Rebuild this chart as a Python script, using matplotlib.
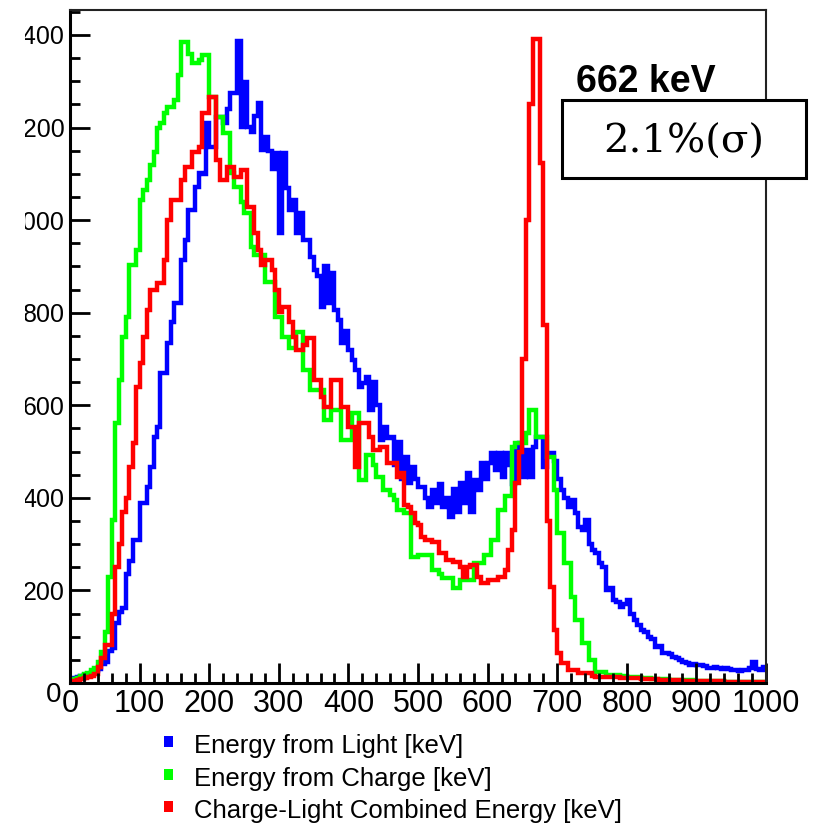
import numpy as np
import matplotlib
matplotlib.use('Agg')
import matplotlib.pyplot as plt
from matplotlib.patches import Rectangle
from matplotlib.ticker import MultipleLocator, FuncFormatter

plt.rcParams['font.family'] = ['Liberation Sans', 'DejaVu Sans']

# 5 keV bins from 0 to 1000 keV
edges = np.arange(0, 1001, 5)

# Energy from Light
light = [
    8, 10, 12, 15, 18, 20, 22, 25, 30, 40, 45, 70, 75, 130, 153, 162, 236, 264, 309, 309,
    388, 388, 424, 466, 531, 553, 670, 670, 734, 780, 820, 820, 913, 957, 1021, 1021, 1071, 1101, 1100, 1209,
    1158, 1158, 1222, 1222, 1210, 1240, 1274, 1274, 1388, 1201, 1298, 1201, 1190, 1226, 1252, 1151, 1180, 1150, 1110, 1145,
    972, 1145, 1069, 1022, 1043, 972, 1015, 957, 957, 920, 892, 880, 812, 900, 820, 885, 805, 784, 734, 760,
    720, 697, 676, 640, 648, 661, 590, 650, 600, 525, 553, 530, 531, 470, 520, 440, 488, 432, 466, 440,
    423, 423, 400, 380, 417, 389, 430, 380, 400, 358, 420, 370, 432, 389, 453, 369, 438, 417, 475, 440,
    475, 497, 460, 497, 445, 497, 470, 430, 503, 518, 445, 503, 445, 510, 531, 531, 466, 497, 497, 480,
    440, 417, 400, 380, 395, 367, 337, 330, 352, 300, 287, 280, 260, 250, 200, 205, 179, 175, 164, 170,
    179, 150, 136, 125, 114, 110, 99, 95, 78, 80, 65, 65, 62, 56, 55, 50, 45, 43, 39, 40,
    38, 39, 37, 33, 32, 34, 32, 30, 32, 31, 29, 28, 27, 29, 28, 33, 45, 30, 28, 35,
]

# Energy from Charge
charge = [
    5, 8, 10, 15, 20, 22, 28, 32, 45, 67, 110, 229, 352, 561, 654, 747, 790, 903, 903, 935,
    1043, 1065, 1086, 1120, 1147, 1199, 1210, 1231, 1244, 1244, 1259, 1313, 1384, 1384, 1360, 1339, 1339, 1345, 1356, 1356,
    1266, 1266, 1222, 1222, 1188, 1188, 1101, 1071, 1071, 1040, 1015, 1015, 942, 925, 925, 925, 866, 866, 866, 790,
    790, 747, 747, 723, 723, 758, 758, 676, 676, 633, 633, 633, 633, 568, 568, 590, 590, 590, 525, 525,
    525, 583, 583, 438, 438, 492, 492, 470, 445, 445, 417, 417, 406, 395, 374, 374, 367, 367, 272, 272,
    276, 276, 276, 276, 244, 244, 235, 227, 227, 227, 205, 205, 222, 222, 222, 222, 259, 259, 259, 276,
    276, 309, 309, 374, 374, 404, 404, 510, 518, 518, 518, 540, 590, 590, 531, 531, 531, 488, 488, 417,
    324, 324, 259, 259, 186, 136, 136, 86, 86, 50, 50, 24, 24, 24, 17, 17, 17, 17, 15, 15,
    14, 13, 12, 12, 11, 10, 10, 9, 9, 8, 8, 8, 7, 7, 7, 6, 6, 6, 6, 5,
    5, 5, 5, 4, 4, 4, 4, 4, 3, 3, 3, 3, 3, 3, 3, 3, 2, 2, 2, 2,
]

# Charge-Light Combined Energy
combined = [
    5, 5, 6, 8, 10, 12, 15, 20, 35, 54, 82, 82, 150, 250, 300, 370, 400, 466, 518, 639,
    691, 747, 806, 849, 849, 864, 864, 913, 1000, 1043, 1043, 1043, 1086, 1115, 1115, 1147, 1147, 1158, 1231, 1231,
    1266, 1266, 1130, 1086, 1086, 1115, 1115, 1093, 1093, 1108, 1108, 1028, 1028, 972, 935, 903, 913, 913, 892, 849,
    801, 812, 812, 780, 747, 720, 720, 730, 745, 745, 654, 654, 618, 596, 596, 654, 654, 654, 596, 596,
    553, 553, 466, 562, 562, 562, 531, 503, 503, 510, 510, 475, 475, 475, 445, 453, 384, 380, 367, 345,
    341, 315, 309, 309, 305, 305, 281, 281, 266, 266, 262, 262, 251, 229, 251, 255, 255, 229, 216, 216,
    222, 222, 222, 229, 229, 244, 287, 330, 432, 500, 700, 1000, 1250, 1391, 1391, 1123, 773, 350, 207, 114,
    65, 43, 43, 28, 28, 28, 22, 22, 22, 22, 16, 13, 13, 13, 13, 13, 12, 12, 11, 11,
    11, 10, 10, 10, 9, 9, 8, 8, 8, 7, 7, 7, 6, 6, 6, 6, 5, 5, 5, 5,
    5, 5, 4, 4, 4, 4, 4, 4, 3, 3, 3, 3, 3, 3, 3, 3, 3, 3, 3, 3,
]

labels = ['Energy from Light [keV]', 'Energy from Charge [keV]',
          'Charge-Light Combined Energy [keV]']
colors = ['#0000ff', '#00ff00', '#ff0000']

W, H = 819, 830
fig = plt.figure(figsize=(W / 100, H / 100), dpi=100)
ax = fig.add_axes([70 / W, 1 - 683 / H, 696 / W, 673 / H])

for vals, c in zip([light, charge, combined], colors):
    ax.stairs(vals, edges, color=c, lw=3.2, baseline=None)

ax.set_xlim(0, 1000)
ax.set_ylim(0, 1454)
ax.xaxis.set_major_locator(MultipleLocator(100))
ax.xaxis.set_minor_locator(MultipleLocator(20))
ax.yaxis.set_major_locator(MultipleLocator(200))
ax.yaxis.set_minor_locator(MultipleLocator(50))
# the zero of the y axis sits a little lower, drawn separately below
ax.yaxis.set_major_formatter(FuncFormatter(lambda v, p: '' if v == 0 else f'{v:.0f}'))
ax.tick_params(which='both', direction='in', width=2)
ax.tick_params(which='major', length=14.4)
ax.tick_params(which='minor', length=7)
ax.tick_params(axis='x', labelsize=22, pad=4)
ax.tick_params(axis='y', labelsize=18, pad=4)
ax.annotate('0', xy=(0, 0), xytext=(-11.5, -8.6), textcoords='offset points',
            fontsize=20, ha='center', va='center', annotation_clip=False)
for s in ['left', 'bottom']:
    ax.spines[s].set_linewidth(2.2)
for s in ['top', 'right']:
    ax.spines[s].set_linewidth(1.5)
    ax.spines[s].set_color('#222222')

# the source picture is cut off on its left side
fig.add_artist(Rectangle((0, 0.15), 25 / W, 0.85, transform=fig.transFigure,
                         fc='white', ec='none', zorder=10))

fig.text(576 / W, 1 - 92 / H, '662 keV', fontsize=27, fontweight='bold',
         ha='left', va='baseline')
fig.add_artist(Rectangle((562 / W, 1 - 178 / H), 244 / W, 78 / H,
                         transform=fig.transFigure, fc='white', ec='black',
                         lw=2.2, zorder=5))
fig.text(684 / W, 1 - 142 / H, '2.1%(σ)', family='DejaVu Serif', fontsize=29,
         ha='center', va='center', zorder=6)

# legend rows under the axes
for i, (lab, c) in enumerate(zip(labels, colors)):
    base = 753 + 32.5 * i
    fig.add_artist(Rectangle((164 / W, 1 - (base - 6) / H), 9 / W, 11 / H,
                             transform=fig.transFigure, fc=c, ec='none'))
    fig.text(194 / W, 1 - base / H, lab, fontsize=18.5, va='baseline')

fig.savefig('out.png', dpi=100)
